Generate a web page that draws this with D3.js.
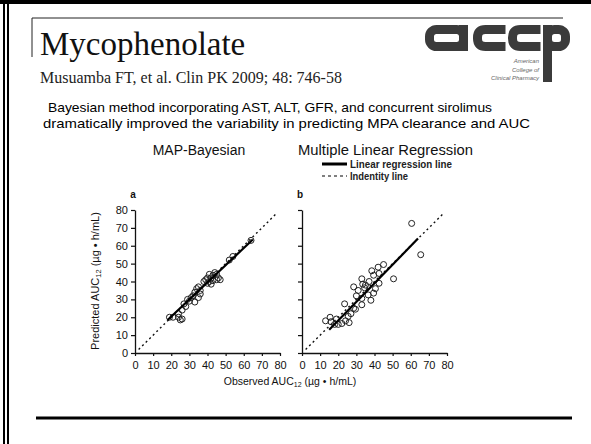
<!DOCTYPE html>
<html>
<head>
<meta charset="utf-8">
<script src="https://cdn.jsdelivr.net/npm/d3@7"></script>
<style>
  body { margin: 0; background: #fff; }
  svg { display: block; }
</style>
</head>
<body>
<div class="slide"></div>
<script>
// values
var panelTitles = ["MAP-Bayesian", "Multiple Linear Regression"];
var panelLetters = ["a", "b"];
var axisTicks = [0, 10, 20, 30, 40, 50, 60, 70, 80];

// observed vs predicted AUC12, MAP-Bayesian (panel a)
var mapBayesian = [
  [19, 20], [21, 20], [24, 20], [25, 18.5], [26, 19], [24, 22], [26, 24],
  [27, 27.5], [28, 26], [29, 30], [30, 29], [31, 31], [32, 32], [33, 28.5],
  [33, 34], [34, 36], [35, 37], [36, 35], [36, 33], [35, 31], [38, 40],
  [39, 41], [40, 42], [40, 39], [41, 40], [41, 44], [42, 42], [42, 38.5],
  [43, 43.5], [43, 40.5], [44, 45], [45, 41], [45, 44], [46, 42], [47, 41],
  [52, 52], [54, 54], [64, 63]
];

// observed vs predicted AUC12, multiple linear regression (panel b)
var multiLinear = [
  [60.5, 72.5], [65.5, 55], [45, 49.5], [42, 48], [38.5, 46], [42.5, 44.5],
  [39.5, 43.5], [50.5, 41.5], [33, 41.5], [37, 40], [42.5, 39], [33.5, 38.5],
  [34.5, 36.5], [28.5, 37], [40.5, 36], [39.5, 33.5], [36.5, 32.5], [30, 32],
  [33, 30.5], [38, 29.5], [23.5, 27.5], [33, 27], [28.5, 25], [29.5, 24.5],
  [15.5, 20], [25.5, 20.5], [27, 22], [13, 18], [16, 17.5], [18, 16],
  [20, 16], [22, 16.5], [24, 18], [26, 17], [19, 19], [31, 35], [35, 38]
];

// line end points [x, y]
var identityLine = [[2, 2], [78, 78]];
var regressionA = [[18, 18.5], [65, 63.5]];
var regressionB = [[15, 13], [64, 64]];

var width = 591, height = 444;
var serif = "'Liberation Serif', 'Times New Roman', serif";
var sans = "'Liberation Sans', Arial, sans-serif";

var svg = d3.select(".slide")
  .append("svg")
  .attr("width", width)
  .attr("height", height);

// slide frame
svg.append("rect").attr("x", 0).attr("y", 0).attr("width", width).attr("height", 4).attr("fill", "#000");
svg.append("rect").attr("x", 3).attr("y", 0).attr("width", 2).attr("height", height).attr("fill", "#000");
svg.append("rect").attr("x", 7).attr("y", 0).attr("width", 2).attr("height", height).attr("fill", "#000");
svg.append("line").attr("x1", 32).attr("x2", 563).attr("y1", 18).attr("y2", 18)
  .attr("stroke", "#222").attr("stroke-width", 1);
svg.append("line").attr("x1", 32).attr("x2", 32).attr("y1", 18).attr("y2", 57)
  .attr("stroke", "#222").attr("stroke-width", 1);
svg.append("line").attr("x1", 36).attr("x2", 572).attr("y1", 418).attr("y2", 418)
  .attr("stroke", "#000").attr("stroke-width", 3);

// headings
svg.append("text").attr("x", 40).attr("y", 55)
  .attr("font-family", serif).attr("font-size", 33).attr("fill", "#111")
  .text("Mycophenolate");
svg.append("text").attr("x", 40).attr("y", 83)
  .attr("font-family", serif).attr("font-size", 16).attr("fill", "#222")
  .text("Musuamba FT, et al. Clin PK 2009; 48: 746-58");
svg.append("text").attr("x", 48).attr("y", 112)
  .attr("font-family", sans).attr("font-size", 13.5).attr("fill", "#000")
  .attr("textLength", 444).attr("lengthAdjust", "spacingAndGlyphs")
  .text("Bayesian method incorporating AST, ALT, GFR, and concurrent sirolimus");
svg.append("text").attr("x", 43).attr("y", 128)
  .attr("font-family", sans).attr("font-size", 13.5).attr("fill", "#000")
  .attr("textLength", 487).attr("lengthAdjust", "spacingAndGlyphs")
  .text("dramatically improved the variability in predicting MPA clearance and AUC");

// accp logo drawn as thick rounded strokes
var logo = svg.append("g").attr("class", "logo")
  .attr("fill", "none").attr("stroke", "#3b3b3b").attr("stroke-width", 9);
logo.append("rect").attr("x", 429.5).attr("y", 29.5).attr("width", 34).attr("height", 17).attr("rx", 7);
logo.append("rect").attr("x", 459).attr("y", 25).attr("width", 9).attr("height", 26)
  .attr("fill", "#3b3b3b").attr("stroke", "none");
[477.5, 512.5].forEach(function(cx) {
  logo.append("path")
    .attr("d", "M" + (cx + 28) + ",29.5H" + (cx + 8) + "Q" + cx + ",29.5 " + cx + ",37.5V38.5Q" +
      cx + ",46.5 " + (cx + 8) + ",46.5H" + (cx + 28));
});
logo.append("rect").attr("x", 547.5).attr("y", 29.5).attr("width", 18).attr("height", 17).attr("rx", 7);
logo.append("rect").attr("x", 543).attr("y", 25).attr("width", 9).attr("height", 57)
  .attr("fill", "#3b3b3b").attr("stroke", "none");
["American", "College of", "Clinical Pharmacy"].forEach(function(t, i) {
  svg.append("text").attr("x", 539).attr("y", 63 + i * 8.5)
    .attr("text-anchor", "end").attr("font-family", sans).attr("font-style", "italic")
    .attr("font-size", 6).attr("fill", "#666").text(t);
});

// panel titles
svg.append("text").attr("x", 199).attr("y", 155).attr("text-anchor", "middle")
  .attr("font-family", sans).attr("font-size", 14).attr("fill", "#111").text(panelTitles[0]);
svg.append("text").attr("x", 298).attr("y", 155)
  .attr("font-family", sans).attr("font-size", 14).attr("fill", "#111")
  .attr("textLength", 175).attr("lengthAdjust", "spacingAndGlyphs").text(panelTitles[1]);

// legend
var legend = svg.append("g").attr("font-family", sans).attr("font-size", 10)
  .attr("font-weight", "bold").attr("fill", "#222");
legend.append("line").attr("x1", 322).attr("x2", 347).attr("y1", 164).attr("y2", 164)
  .attr("stroke", "#000").attr("stroke-width", 3);
legend.append("text").attr("x", 350).attr("y", 167.5)
  .attr("textLength", 102).attr("lengthAdjust", "spacingAndGlyphs").text("Linear regression line");
legend.append("line").attr("x1", 322).attr("x2", 347).attr("y1", 176).attr("y2", 176)
  .attr("stroke", "#000").attr("stroke-width", 1).attr("stroke-dasharray", "3,3");
legend.append("text").attr("x", 350).attr("y", 179.5)
  .attr("textLength", 58).attr("lengthAdjust", "spacingAndGlyphs").text("Indentity line");

var y = d3.scaleLinear().domain([0, 80]).range([353, 210]);
var line = d3.line()
  .x(function(d) { return d.xs(d.v[0]); })
  .y(function(d) { return y(d.v[1]); });

function drawPanel(x0, data, reg, letter, showLabels) {
  var x = d3.scaleLinear().domain([0, 80]).range([x0, x0 + 145]);
  var g = svg.append("g").attr("font-family", sans);

  var yAxis = d3.axisLeft(y).tickValues(axisTicks).tickSize(4).tickSizeOuter(0);
  if (!showLabels) yAxis.tickFormat("");
  var ya = g.append("g").attr("transform", "translate(" + x0 + ",0)").call(yAxis);

  var xa = g.append("g").attr("transform", "translate(0," + y(0) + ")")
    .call(d3.axisBottom(x).tickValues(axisTicks).tickSize(3).tickSizeOuter(0));

  [ya, xa].forEach(function(a) {
    a.select(".domain").attr("stroke", "#111").attr("stroke-width", 1.3);
    a.selectAll(".tick line").attr("stroke", "#111").attr("stroke-width", 1.2);
    a.selectAll(".tick text").attr("font-size", 11).attr("fill", "#111");
  });
  xa.selectAll(".tick text").attr("dy", "0.9em");

  g.append("text").attr("x", x0 - 2).attr("y", 198).attr("text-anchor", "middle")
    .attr("font-size", 10).attr("font-weight", "bold").attr("fill", "#111").text(letter);

  var withScale = function(pts) { return pts.map(function(p) { return { xs: x, v: p }; }); };

  g.append("path").attr("d", line(withScale(identityLine)))
    .attr("fill", "none").attr("stroke", "#111").attr("stroke-width", 1.4)
    .attr("stroke-dasharray", "2,3");

  g.selectAll(".pt")
    .data(data)
    .enter()
    .append("circle")
    .attr("class", "pt")
    .attr("cx", function(d) { return x(d[0]); })
    .attr("cy", function(d) { return y(d[1]); })
    .attr("r", 3)
    .attr("fill", "none")
    .attr("stroke", "#222")
    .attr("stroke-width", 1);

  g.append("path").attr("d", line(withScale(reg)))
    .attr("fill", "none").attr("stroke", "#000").attr("stroke-width", 2.2);
}

drawPanel(135, mapBayesian, regressionA, panelLetters[0], true);
drawPanel(302, multiLinear, regressionB, panelLetters[1], false);

// shared axis titles
var yt = svg.append("text")
  .attr("transform", "translate(99,281) rotate(-90)")
  .attr("text-anchor", "middle").attr("font-family", sans)
  .attr("font-size", 11).attr("fill", "#111");
yt.append("tspan").text("Predicted AUC");
yt.append("tspan").attr("font-size", 7.5).attr("dy", 2).text("12");
yt.append("tspan").attr("dy", -2).text(" (\u00b5g \u2022 h/mL)");

var xt = svg.append("text")
  .attr("x", 290).attr("y", 385)
  .attr("text-anchor", "middle").attr("font-family", sans)
  .attr("font-size", 10.5).attr("fill", "#111");
xt.append("tspan").text("Observed AUC");
xt.append("tspan").attr("font-size", 7).attr("dy", 2).text("12");
xt.append("tspan").attr("dy", -2).text(" (\u00b5g \u2022 h/mL)");
</script>
</body>
</html>
